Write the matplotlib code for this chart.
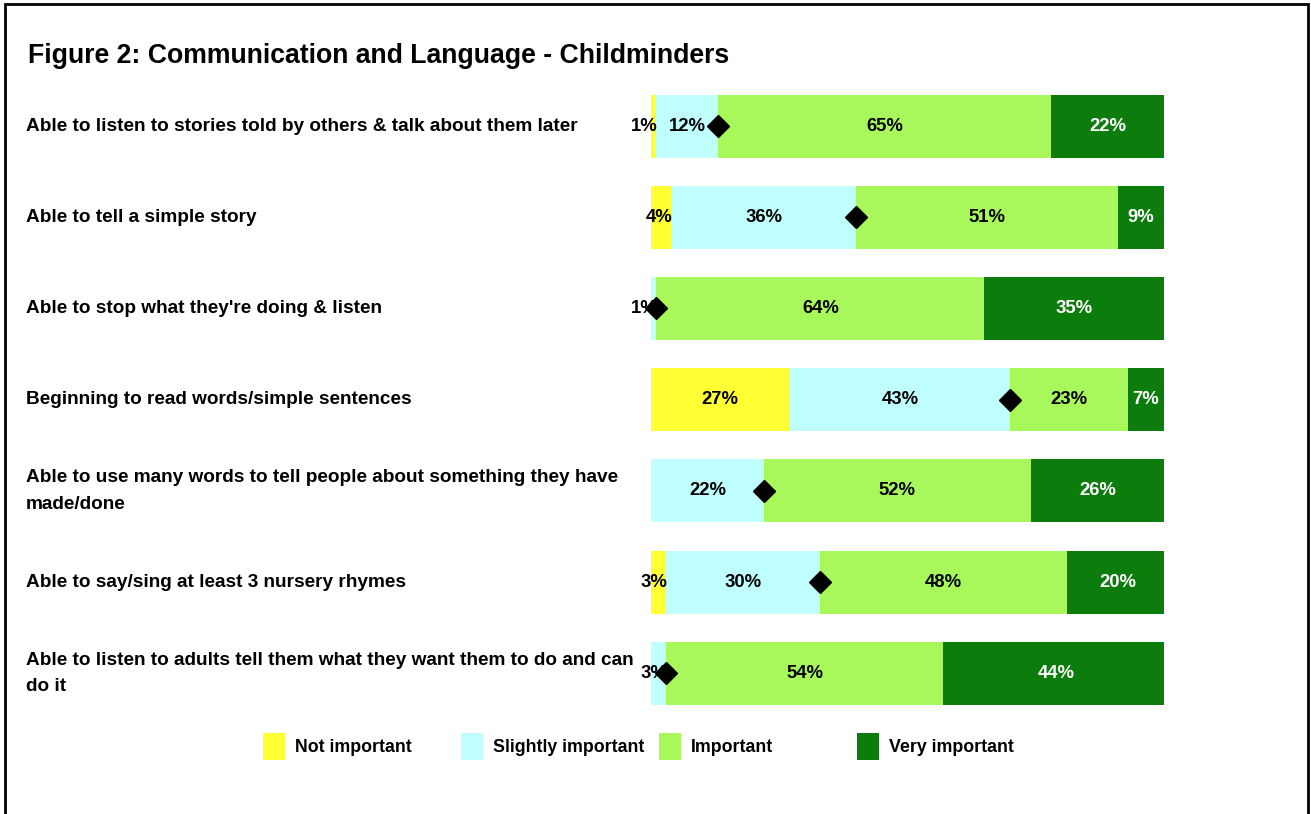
import numpy as np
import matplotlib
matplotlib.use("Agg")
from matplotlib import pyplot as plt
from matplotlib.patches import Rectangle
from matplotlib import transforms

plt.rcParams['font.family'] = ['Liberation Sans', 'DejaVu Sans']
plt.rcParams['font.weight'] = 'bold'

# data
categories = [
    "Able to listen to stories told by others & talk about them later",
    "Able to tell a simple story",
    "Able to stop what they're doing & listen",
    "Beginning to read words/simple sentences",
    "Able to use many words to tell people about something they have\nmade/done",
    "Able to say/sing at least 3 nursery rhymes",
    "Able to listen to adults tell them what they want them to do and can\ndo it",
]
not_important = [1, 4, 0, 27, 0, 3, 0]
slightly_important = [12, 36, 1, 43, 22, 30, 3]
important = [65, 51, 64, 23, 52, 48, 54]
very_important = [22, 9, 35, 7, 26, 20, 44]
series_names = ["Not important", "Slightly important", "Important", "Very important"]
colors = ["#FFFF33", "#C0FFFF", "#A8F85C", "#0C7C0C"]
text_colors = ["black", "black", "black", "white"]

series = [not_important, slightly_important, important, very_important]

fig = plt.figure(figsize=(13.11, 8.14), dpi=100)
ax = fig.add_axes([0.4966, 0.1167, 0.3913, 0.7845])

y = np.arange(len(categories))
left = np.zeros(len(categories))
for vals, col, tcol in zip(series, colors, text_colors):
    vals = np.array(vals, dtype=float)
    ax.barh(y, vals, left=left, height=0.69, color=col, edgecolor='none')
    for i, v in enumerate(vals):
        if v <= 0:
            continue
        if v < 5:
            # small segments: label hangs off to the left
            ax.text(left[i] + v + 0.2, y[i], f"{v:.0f}%", ha='right', va='center',
                    fontsize=13.3, color=tcol, fontweight='bold')
        else:
            ax.text(left[i] + v / 2, y[i], f"{v:.0f}%", ha='center', va='center',
                    fontsize=13.3, color=tcol, fontweight='bold')
    left = left + vals

# diamond marker at boundary between slightly important and important
marker_x = np.array(not_important) + np.array(slightly_important)
ax.plot(marker_x, y, 'D', color='black', markersize=11, clip_on=False)

ax.set_xlim(0, 100)
ax.set_ylim(len(categories) - 0.5, -0.5)
ax.axis('off')

label_trans = transforms.blended_transform_factory(fig.transFigure, ax.transData)
for i, cat in enumerate(categories):
    ax.text(26 / 1311, y[i], cat, transform=label_trans,
            ha='left', va='center', fontsize=13.7, fontweight='bold', linespacing=1.75)

fig.text(28 / 1311, 1 - 56 / 814, "Figure 2: Communication and Language - Childminders",
         ha='left', va='center', fontsize=19.2, fontweight='bold')

# legend drawn by hand (fixed column width like the original)
for k, (name, col) in enumerate(zip(series_names, colors)):
    x0 = 263 + 198 * k
    fig.patches.append(Rectangle((x0 / 1311, 1 - 760 / 814), 22 / 1311, 27 / 814,
                                 transform=fig.transFigure, facecolor=col, edgecolor='none'))
    fig.text((x0 + 32) / 1311, 1 - 747 / 814, name, ha='left', va='center',
             fontsize=12.8, fontweight='bold')

# outer frame
fig.patches.append(Rectangle((5 / 1311, -0.01), 1303 / 1311, 1 - 4 / 814 + 0.01,
                             transform=fig.transFigure, facecolor='none',
                             edgecolor='black', linewidth=2))

fig.savefig("out.png", dpi=100)
